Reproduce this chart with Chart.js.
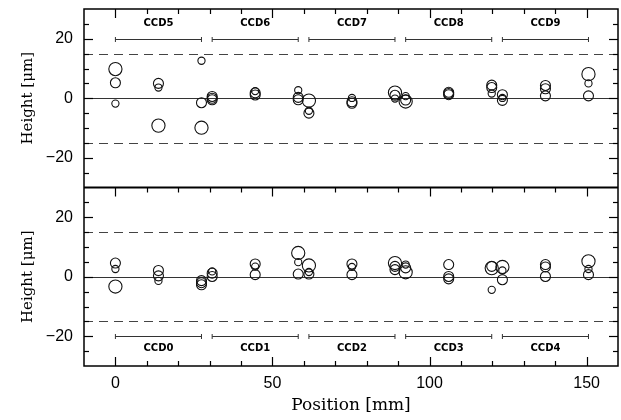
<!DOCTYPE html>
<html><head><meta charset="utf-8">
<script src="https://cdn.jsdelivr.net/npm/chart.js@4.4.1/dist/chart.umd.min.js"></script>
<style>html,body{margin:0;padding:0;background:#fff}</style>
</head><body>
<canvas id="c" width="621" height="420"></canvas>
<script>
// ---- data ----
const positions = [0, 13.7, 27.4, 30.8, 44.5, 58.2, 61.6, 75.3, 89.0, 92.4, 106.1, 119.8, 123.2, 136.9, 150.6];
const topHeights = [
  [9.8, 5.2, -1.8], [5.0, 3.6, -9.2], [12.6, -1.5, -9.9], [0.6, 0.0, -0.5], [2.4, 1.8, 1.1],
  [2.7, 0.3, -0.5], [-0.8, -4.2, -5.0], [0.1, -1.2, -1.7], [1.9, 1.0, -0.1], [0.7, -0.6, -1.1],
  [2.0, 1.6, 1.2], [4.4, 3.6, 1.6], [1.2, 0.1, -0.7], [4.3, 3.2, 0.8], [8.1, 5.0, 0.8]
];
const topSizes = [
  [3, 2, 1], [2, 1, 3], [1, 2, 3], [2, 2, 2], [1, 2, 2],
  [1, 2, 2], [3, 1, 2], [1, 2, 2], [3, 2, 1], [1, 2, 3],
  [2, 2, 2], [2, 2, 1], [2, 1, 2], [2, 2, 2], [3, 1, 2]
];
const bottomHeights = [
  [4.6, 2.6, -3.3], [2.1, 0.3, -1.4], [-1.3, -2.0, -2.7], [1.8, 1.2, 0.1], [4.3, 3.4, 0.7],
  [8.0, 4.9, 0.9], [3.8, 1.6, 0.9], [4.3, 3.3, 0.7], [4.6, 3.5, 2.4], [4.1, 3.0, 1.5],
  [4.1, 0.1, -0.7], [3.5, 2.9, -4.4], [3.3, 2.1, -1.0], [4.1, 3.3, 0.1], [5.2, 2.6, 0.7]
];
const bottomSizes = [
  [2, 1, 3], [2, 2, 1], [2, 2, 2], [1, 2, 2], [2, 1, 2],
  [3, 1, 2], [3, 1, 2], [2, 1, 2], [3, 2, 2], [1, 2, 3],
  [2, 2, 2], [2, 3, 1], [3, 1, 2], [2, 2, 2], [3, 1, 2]
];
const ccdStarts = [0, 30.8, 61.6, 92.4, 123.2];
const ccdLength = 27.4;
const topCcdNames = ['CCD5', 'CCD6', 'CCD7', 'CCD8', 'CCD9'];
const bottomCcdNames = ['CCD0', 'CCD1', 'CCD2', 'CCD3', 'CCD4'];
const xTickValues = [0, 50, 100, 150];
const xMinorTickValues = [0, 10, 20, 30, 40, 50, 60, 70, 80, 90, 100, 110, 120, 130, 140, 150];
const yTickValues = [-20, 0, 20];
const yMinorTickValues = [-25, -20, -15, -10, -5, 0, 5, 10, 15, 20, 25];
const toleranceLevel = 15;
const bracketLevel = 20;

// ---- build ----
function flatten(heights, sizes) {
  const pts = [], sz = [];
  heights.forEach((col, i) => col.forEach((h, j) => { pts.push({x: positions[i], y: h}); sz.push(sizes[i][j]); }));
  return {pts, sz};
}
const topData = flatten(topHeights, topSizes);
const botData = flatten(bottomHeights, bottomSizes);
const radiusOf = code => ({1: 3.6, 2: 5.0, 3: 6.6})[code];

const ink = '#111';
function noPad(s) { s.paddingTop = 0; s.paddingBottom = 0; s.paddingLeft = 0; s.paddingRight = 0; }
function yAxis(extra) {
  return Object.assign({
    type: 'linear', position: 'left', stack: 'panels', stackWeight: 1,
    min: -30, max: 30,
    afterBuildTicks: s => { s.ticks = yTickValues.map(v => ({value: v})); },
    afterFit: s => { s.width = 84; noPad(s); },
    grid: {display: false, drawTicks: false},
    border: {display: false},
    ticks: {
      padding: 11, color: '#000',
      font: {family: 'Liberation Sans', size: 16},
      callback: v => v < 0 ? '\u2212' + Math.abs(v) : String(v)
    },
    title: {display: true, text: 'Height [\u03bcm]', color: '#000',
      font: {family: 'DejaVu Serif', size: 15}, padding: {top: 19, bottom: 0}}
  }, extra);
}

function seg(ctx, x1, y1, x2, y2) {
  ctx.beginPath(); ctx.moveTo(x1, y1); ctx.lineTo(x2, y2); ctx.stroke();
}

const panelPlugin = {
  id: 'panels',
  beforeDatasetsDraw(chart) {
    const ctx = chart.ctx, xs = chart.scales.x;
    ['yTop', 'yBot'].forEach(id => {
      const ys = chart.scales[id];
      ctx.save();
      ctx.strokeStyle = '#444';
      ctx.lineWidth = 1;
      ctx.setLineDash([9, 6]);
      [toleranceLevel, -toleranceLevel].forEach(v => {
        const py = Math.round(ys.getPixelForValue(v)) + 0.5;
        seg(ctx, xs.left, py, xs.right, py);
      });
      ctx.setLineDash([]);
      ctx.strokeStyle = '#333';
      const pz = Math.round(ys.getPixelForValue(0)) + 0.5;
      seg(ctx, xs.left, pz, xs.right, pz);
      ctx.restore();
    });
  },
  afterDraw(chart) {
    const ctx = chart.ctx, xs = chart.scales.x;
    const yt = chart.scales.yTop, yb = chart.scales.yBot;
    const L = xs.left, R = xs.right;
    ctx.save();
    ctx.setLineDash([]);
    // brackets + labels
    const drawBrackets = (ys, names, level, textLevel) => {
      ctx.lineWidth = 1;
      ctx.strokeStyle = '#333';
      const py = Math.round(ys.getPixelForValue(level)) + 0.5;
      ctx.font = 'bold 10px "DejaVu Sans"';
      ctx.fillStyle = '#000';
      ctx.textAlign = 'center'; ctx.textBaseline = 'middle';
      ccdStarts.forEach((s, i) => {
        const a = xs.getPixelForValue(s), b = xs.getPixelForValue(s + ccdLength);
        seg(ctx, a, py, b, py);
        seg(ctx, a, py - 2.5, a, py + 2.5);
        seg(ctx, b, py - 2.5, b, py + 2.5);
        ctx.fillText(names[i], (a + b) / 2, ys.getPixelForValue(textLevel));
      });
    };
    drawBrackets(yt, topCcdNames, bracketLevel, 25);
    drawBrackets(yb, bottomCcdNames, -bracketLevel, -24.2);

    // tick marks (inside)
    ctx.strokeStyle = '#000';
    ctx.lineWidth = 1.2;
    const edges = [[yt.top, 1], [yb.top, 1], [yb.bottom, -1]];
    edges.forEach(([py, dir]) => {
      xMinorTickValues.forEach(v => {
        const px = Math.round(xs.getPixelForValue(v)) + 0.5;
        const len = xTickValues.includes(v) ? 9 : 5;
        seg(ctx, px, py, px, py + dir * len);
      });
    });
    [yt, yb].forEach(ys => {
      yMinorTickValues.forEach(v => {
        const py = Math.round(ys.getPixelForValue(v)) + 0.5;
        const len = yTickValues.includes(v) ? 9 : 5;
        seg(ctx, L, py, L + len, py);
        seg(ctx, R, py, R - len, py);
      });
    });
    // frames
    ctx.lineWidth = 1.5;
    ctx.strokeRect(L, yt.top, R - L, yb.bottom - yt.top);
    ctx.lineWidth = 2;
    seg(ctx, L, yt.bottom, R, yt.bottom);
    ctx.restore();
  }
};

new Chart(document.getElementById('c'), {
  type: 'scatter',
  data: {
    datasets: [
      {data: topData.pts, yAxisID: 'yTop', xAxisID: 'x',
       pointRadius: c => radiusOf(topData.sz[c.dataIndex]),
       pointBackgroundColor: 'rgba(0,0,0,0)', pointBorderColor: ink, pointBorderWidth: 1.1},
      {data: botData.pts, yAxisID: 'yBot', xAxisID: 'x',
       pointRadius: c => radiusOf(botData.sz[c.dataIndex]),
       pointBackgroundColor: 'rgba(0,0,0,0)', pointBorderColor: ink, pointBorderWidth: 1.1}
    ]
  },
  options: {
    responsive: false, animation: false, devicePixelRatio: 1,
    layout: {autoPadding: false, padding: {left: 0, right: 3, top: 9, bottom: 0}},
    plugins: {legend: {display: false}, tooltip: {enabled: false}},
    scales: {
      x: {
        type: 'linear', position: 'bottom', min: -10, max: 160,
        afterBuildTicks: s => { s.ticks = xTickValues.map(v => ({value: v})); },
        afterFit: s => { s.height = 54; noPad(s); },
        grid: {display: false, drawTicks: false},
        border: {display: false},
        ticks: {padding: 8, color: '#000', maxRotation: 0, font: {family: 'Liberation Sans', size: 16}},
        title: {display: true, text: 'Position [mm]', color: '#000',
          font: {family: 'DejaVu Serif', size: 17}, padding: {top: 0, bottom: 4}}
      },
      yBot: yAxis({}),
      yTop: yAxis({})
    }
  },
  plugins: [panelPlugin]
});
</script>
</body></html>
